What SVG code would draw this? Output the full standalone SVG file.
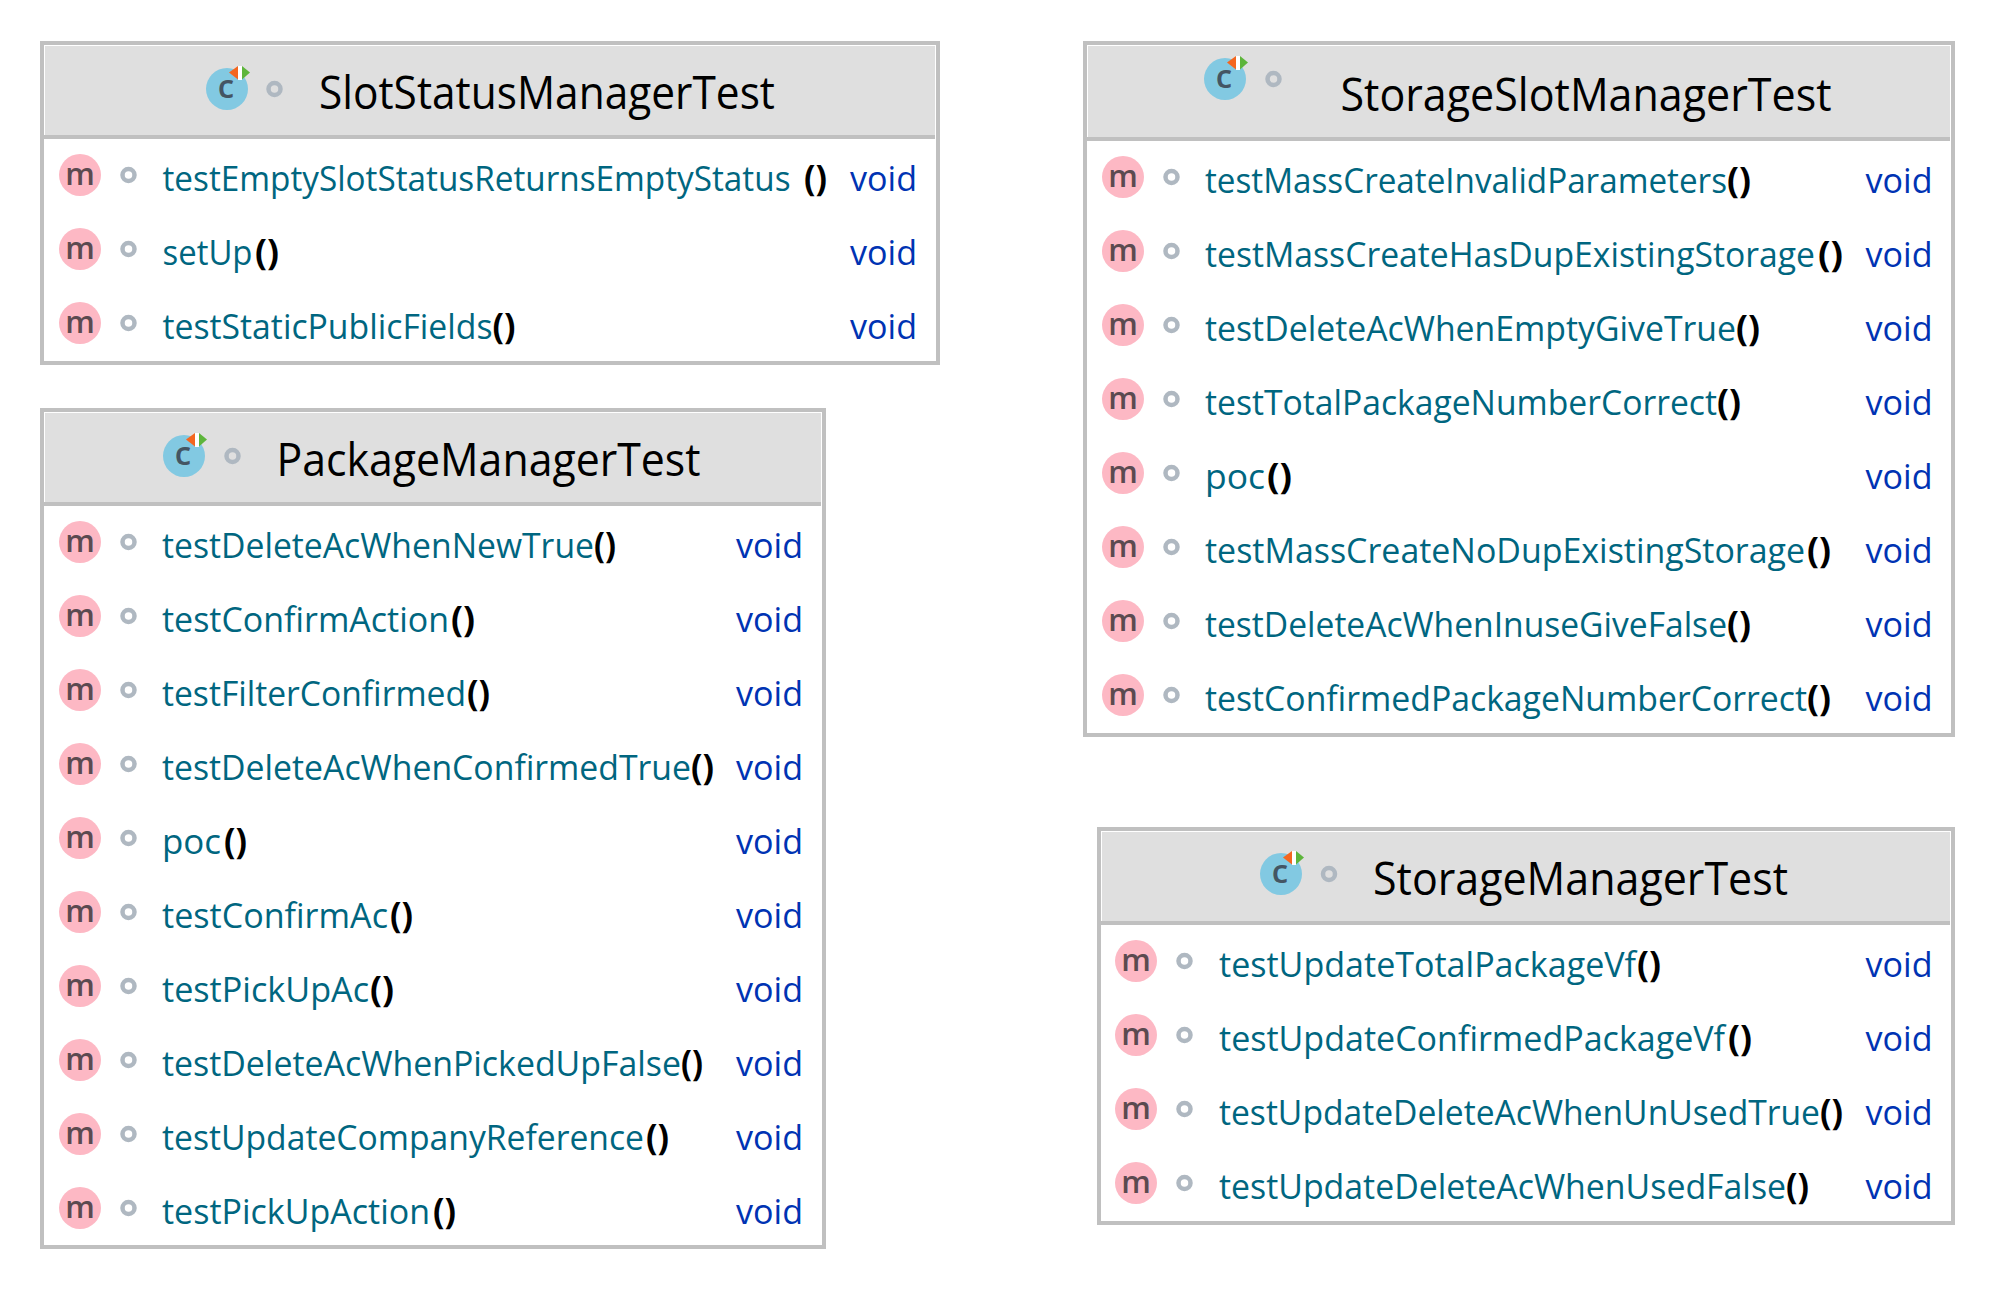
<svg xmlns="http://www.w3.org/2000/svg" xmlns:xlink="http://www.w3.org/1999/xlink" width="1996" height="1290" viewBox="0 0 1996 1290">
<style>
text{font-family:"Open Sans","Noto Sans","Liberation Sans",sans-serif}
.box{fill:#fff;stroke:#c0c0c0;stroke-width:4}
.head{fill:#dfdfdf}
.rule{fill:#c0c0c0}
.title{font-size:45px;fill:#000}
.pin{fill:#fdb8c4}
.ring{fill:none;stroke:#afb8c1;stroke-width:4.500}
.m{font-size:31px;font-weight:600;fill:#5b4a50;text-anchor:middle}
.c{font-size:33px;font-weight:600;fill:#445563;text-anchor:middle}
.t{font-size:35px;fill:#006680}
.p{font-size:36px;font-weight:700;fill:#000}
.v{font-size:35px;fill:#0033b3}
</style>
<defs>
<g id="ci">
<circle r="21" fill="#82c9e2"/>
<rect x="11" y="-23" width="4" height="14" fill="#fff"/>
<path d="M2 -16.500L11 -23V-9.500Z" fill="#f4661f"/>
<path d="M15 -23L23 -16.500L15 -9.500Z" fill="#5db53b"/>
</g>
</defs>
<g id="connectors"></g>

<g id="SlotStatusManagerTest">
<rect class="box" x="42" y="43" width="896" height="320"/>
<rect class="head" x="45" y="46" width="890" height="89"/><rect class="rule" x="44" y="135" width="891" height="4"/>
<use href="#ci" x="227" y="89"/><text class="c" x="226" y="98">c</text><circle class="ring" cx="274.500" cy="89" r="6"/>
<text class="title" x="319" y="109" textLength="456" lengthAdjust="spacingAndGlyphs">SlotStatusManagerTest</text>
<circle class="pin" cx="80" cy="175" r="21"/><text class="m" x="80" y="185">m</text><circle class="ring" cx="128.500" cy="175" r="6"/>
<text class="t" y="191"><tspan x="162.500" textLength="628" lengthAdjust="spacingAndGlyphs">testEmptySlotStatusReturnsEmptyStatus</tspan><tspan class="p" x="804" textLength="23" lengthAdjust="spacingAndGlyphs">()</tspan></text><text class="v" x="850" y="191" textLength="67" lengthAdjust="spacingAndGlyphs">void</text>
<circle class="pin" cx="80" cy="249" r="21"/><text class="m" x="80" y="259">m</text><circle class="ring" cx="128.500" cy="249" r="6"/>
<text class="t" y="265"><tspan x="162.500" textLength="90" lengthAdjust="spacingAndGlyphs">setUp</tspan><tspan class="p" x="255" textLength="24" lengthAdjust="spacingAndGlyphs">()</tspan></text><text class="v" x="850" y="265" textLength="67" lengthAdjust="spacingAndGlyphs">void</text>
<circle class="pin" cx="80" cy="323" r="21"/><text class="m" x="80" y="333">m</text><circle class="ring" cx="128.500" cy="323" r="6"/>
<text class="t" y="339"><tspan x="162.500" textLength="330" lengthAdjust="spacingAndGlyphs">testStaticPublicFields</tspan><tspan class="p" x="492.500" textLength="23" lengthAdjust="spacingAndGlyphs">()</tspan></text><text class="v" x="850" y="339" textLength="67" lengthAdjust="spacingAndGlyphs">void</text>
</g>

<g id="PackageManagerTest">
<rect class="box" x="42" y="410" width="782" height="837"/>
<rect class="head" x="45" y="413" width="776" height="89"/><rect class="rule" x="44" y="502" width="777" height="4"/>
<use href="#ci" x="184" y="456"/><text class="c" x="183" y="465">c</text><circle class="ring" cx="232.500" cy="456" r="6"/>
<text class="title" x="276.500" y="476" textLength="424" lengthAdjust="spacingAndGlyphs">PackageManagerTest</text>
<circle class="pin" cx="80" cy="542" r="21"/><text class="m" x="80" y="552">m</text><circle class="ring" cx="128.500" cy="542" r="6"/>
<text class="t" y="558"><tspan x="162" textLength="432" lengthAdjust="spacingAndGlyphs">testDeleteAcWhenNewTrue</tspan><tspan class="p" x="594" textLength="22" lengthAdjust="spacingAndGlyphs">()</tspan></text><text class="v" x="736" y="558" textLength="67" lengthAdjust="spacingAndGlyphs">void</text>
<circle class="pin" cx="80" cy="616" r="21"/><text class="m" x="80" y="626">m</text><circle class="ring" cx="128.500" cy="616" r="6"/>
<text class="t" y="632"><tspan x="162" textLength="287" lengthAdjust="spacingAndGlyphs">testConfirmAction</tspan><tspan class="p" x="451" textLength="24" lengthAdjust="spacingAndGlyphs">()</tspan></text><text class="v" x="736" y="632" textLength="67" lengthAdjust="spacingAndGlyphs">void</text>
<circle class="pin" cx="80" cy="690" r="21"/><text class="m" x="80" y="700">m</text><circle class="ring" cx="128.500" cy="690" r="6"/>
<text class="t" y="706"><tspan x="162" textLength="304" lengthAdjust="spacingAndGlyphs">testFilterConfirmed</tspan><tspan class="p" x="467" textLength="23" lengthAdjust="spacingAndGlyphs">()</tspan></text><text class="v" x="736" y="706" textLength="67" lengthAdjust="spacingAndGlyphs">void</text>
<circle class="pin" cx="80" cy="764" r="21"/><text class="m" x="80" y="774">m</text><circle class="ring" cx="128.500" cy="764" r="6"/>
<text class="t" y="780"><tspan x="162" textLength="529" lengthAdjust="spacingAndGlyphs">testDeleteAcWhenConfirmedTrue</tspan><tspan class="p" x="691" textLength="23" lengthAdjust="spacingAndGlyphs">()</tspan></text><text class="v" x="736" y="780" textLength="67" lengthAdjust="spacingAndGlyphs">void</text>
<circle class="pin" cx="80" cy="838" r="21"/><text class="m" x="80" y="848">m</text><circle class="ring" cx="128.500" cy="838" r="6"/>
<text class="t" y="854"><tspan x="162" textLength="59" lengthAdjust="spacingAndGlyphs">poc</tspan><tspan class="p" x="224" textLength="23" lengthAdjust="spacingAndGlyphs">()</tspan></text><text class="v" x="736" y="854" textLength="67" lengthAdjust="spacingAndGlyphs">void</text>
<circle class="pin" cx="80" cy="912" r="21"/><text class="m" x="80" y="922">m</text><circle class="ring" cx="128.500" cy="912" r="6"/>
<text class="t" y="928"><tspan x="162" textLength="226" lengthAdjust="spacingAndGlyphs">testConfirmAc</tspan><tspan class="p" x="390" textLength="23" lengthAdjust="spacingAndGlyphs">()</tspan></text><text class="v" x="736" y="928" textLength="67" lengthAdjust="spacingAndGlyphs">void</text>
<circle class="pin" cx="80" cy="986" r="21"/><text class="m" x="80" y="996">m</text><circle class="ring" cx="128.500" cy="986" r="6"/>
<text class="t" y="1002"><tspan x="162" textLength="207" lengthAdjust="spacingAndGlyphs">testPickUpAc</tspan><tspan class="p" x="370" textLength="24" lengthAdjust="spacingAndGlyphs">()</tspan></text><text class="v" x="736" y="1002" textLength="67" lengthAdjust="spacingAndGlyphs">void</text>
<circle class="pin" cx="80" cy="1060" r="21"/><text class="m" x="80" y="1070">m</text><circle class="ring" cx="128.500" cy="1060" r="6"/>
<text class="t" y="1076"><tspan x="162" textLength="519" lengthAdjust="spacingAndGlyphs">testDeleteAcWhenPickedUpFalse</tspan><tspan class="p" x="681" textLength="22" lengthAdjust="spacingAndGlyphs">()</tspan></text><text class="v" x="736" y="1076" textLength="67" lengthAdjust="spacingAndGlyphs">void</text>
<circle class="pin" cx="80" cy="1134" r="21"/><text class="m" x="80" y="1144">m</text><circle class="ring" cx="128.500" cy="1134" r="6"/>
<text class="t" y="1150"><tspan x="162" textLength="482" lengthAdjust="spacingAndGlyphs">testUpdateCompanyReference</tspan><tspan class="p" x="646" textLength="23" lengthAdjust="spacingAndGlyphs">()</tspan></text><text class="v" x="736" y="1150" textLength="67" lengthAdjust="spacingAndGlyphs">void</text>
<circle class="pin" cx="80" cy="1208" r="21"/><text class="m" x="80" y="1218">m</text><circle class="ring" cx="128.500" cy="1208" r="6"/>
<text class="t" y="1224"><tspan x="162" textLength="268" lengthAdjust="spacingAndGlyphs">testPickUpAction</tspan><tspan class="p" x="433" textLength="23" lengthAdjust="spacingAndGlyphs">()</tspan></text><text class="v" x="736" y="1224" textLength="67" lengthAdjust="spacingAndGlyphs">void</text>
</g>

<g id="StorageSlotManagerTest">
<rect class="box" x="1085" y="43" width="868" height="692"/>
<rect class="head" x="1088" y="46" width="862" height="91"/><rect class="rule" x="1087" y="137" width="863" height="4"/>
<use href="#ci" x="1225" y="79"/><text class="c" x="1224" y="88">c</text><circle class="ring" cx="1273.500" cy="79" r="6"/>
<text class="title" x="1340.500" y="111" textLength="491" lengthAdjust="spacingAndGlyphs">StorageSlotManagerTest</text>
<circle class="pin" cx="1123" cy="177" r="21"/><text class="m" x="1123" y="187">m</text><circle class="ring" cx="1171.500" cy="177" r="6"/>
<text class="t" y="193"><tspan x="1205" textLength="522" lengthAdjust="spacingAndGlyphs">testMassCreateInvalidParameters</tspan><tspan class="p" x="1727" textLength="24" lengthAdjust="spacingAndGlyphs">()</tspan></text><text class="v" x="1865.500" y="193" textLength="67" lengthAdjust="spacingAndGlyphs">void</text>
<circle class="pin" cx="1123" cy="251" r="21"/><text class="m" x="1123" y="261">m</text><circle class="ring" cx="1171.500" cy="251" r="6"/>
<text class="t" y="267"><tspan x="1205" textLength="610" lengthAdjust="spacingAndGlyphs">testMassCreateHasDupExistingStorage</tspan><tspan class="p" x="1818" textLength="25" lengthAdjust="spacingAndGlyphs">()</tspan></text><text class="v" x="1865.500" y="267" textLength="67" lengthAdjust="spacingAndGlyphs">void</text>
<circle class="pin" cx="1123" cy="325" r="21"/><text class="m" x="1123" y="335">m</text><circle class="ring" cx="1171.500" cy="325" r="6"/>
<text class="t" y="341"><tspan x="1205" textLength="531" lengthAdjust="spacingAndGlyphs">testDeleteAcWhenEmptyGiveTrue</tspan><tspan class="p" x="1736" textLength="24" lengthAdjust="spacingAndGlyphs">()</tspan></text><text class="v" x="1865.500" y="341" textLength="67" lengthAdjust="spacingAndGlyphs">void</text>
<circle class="pin" cx="1123" cy="399" r="21"/><text class="m" x="1123" y="409">m</text><circle class="ring" cx="1171.500" cy="399" r="6"/>
<text class="t" y="415"><tspan x="1205" textLength="512" lengthAdjust="spacingAndGlyphs">testTotalPackageNumberCorrect</tspan><tspan class="p" x="1717" textLength="24" lengthAdjust="spacingAndGlyphs">()</tspan></text><text class="v" x="1865.500" y="415" textLength="67" lengthAdjust="spacingAndGlyphs">void</text>
<circle class="pin" cx="1123" cy="473" r="21"/><text class="m" x="1123" y="483">m</text><circle class="ring" cx="1171.500" cy="473" r="6"/>
<text class="t" y="489"><tspan x="1205" textLength="60" lengthAdjust="spacingAndGlyphs">poc</tspan><tspan class="p" x="1267" textLength="25" lengthAdjust="spacingAndGlyphs">()</tspan></text><text class="v" x="1865.500" y="489" textLength="67" lengthAdjust="spacingAndGlyphs">void</text>
<circle class="pin" cx="1123" cy="547" r="21"/><text class="m" x="1123" y="557">m</text><circle class="ring" cx="1171.500" cy="547" r="6"/>
<text class="t" y="563"><tspan x="1205" textLength="600" lengthAdjust="spacingAndGlyphs">testMassCreateNoDupExistingStorage</tspan><tspan class="p" x="1807" textLength="24" lengthAdjust="spacingAndGlyphs">()</tspan></text><text class="v" x="1865.500" y="563" textLength="67" lengthAdjust="spacingAndGlyphs">void</text>
<circle class="pin" cx="1123" cy="621" r="21"/><text class="m" x="1123" y="631">m</text><circle class="ring" cx="1171.500" cy="621" r="6"/>
<text class="t" y="637"><tspan x="1205" textLength="522" lengthAdjust="spacingAndGlyphs">testDeleteAcWhenInuseGiveFalse</tspan><tspan class="p" x="1727" textLength="24" lengthAdjust="spacingAndGlyphs">()</tspan></text><text class="v" x="1865.500" y="637" textLength="67" lengthAdjust="spacingAndGlyphs">void</text>
<circle class="pin" cx="1123" cy="695" r="21"/><text class="m" x="1123" y="705">m</text><circle class="ring" cx="1171.500" cy="695" r="6"/>
<text class="t" y="711"><tspan x="1205" textLength="602" lengthAdjust="spacingAndGlyphs">testConfirmedPackageNumberCorrect</tspan><tspan class="p" x="1807" textLength="24" lengthAdjust="spacingAndGlyphs">()</tspan></text><text class="v" x="1865.500" y="711" textLength="67" lengthAdjust="spacingAndGlyphs">void</text>
</g>

<g id="StorageManagerTest">
<rect class="box" x="1099" y="829" width="854" height="394"/>
<rect class="head" x="1102" y="832" width="848" height="89"/><rect class="rule" x="1101" y="921" width="849" height="4"/>
<use href="#ci" x="1281" y="874"/><text class="c" x="1280" y="883">c</text><circle class="ring" cx="1329" cy="874" r="6"/>
<text class="title" x="1373" y="895" textLength="415" lengthAdjust="spacingAndGlyphs">StorageManagerTest</text>
<circle class="pin" cx="1136" cy="961" r="21"/><text class="m" x="1136" y="971">m</text><circle class="ring" cx="1184.500" cy="961" r="6"/>
<text class="t" y="977"><tspan x="1219" textLength="417" lengthAdjust="spacingAndGlyphs">testUpdateTotalPackageVf</tspan><tspan class="p" x="1637" textLength="24" lengthAdjust="spacingAndGlyphs">()</tspan></text><text class="v" x="1865.500" y="977" textLength="67" lengthAdjust="spacingAndGlyphs">void</text>
<circle class="pin" cx="1136" cy="1035" r="21"/><text class="m" x="1136" y="1045">m</text><circle class="ring" cx="1184.500" cy="1035" r="6"/>
<text class="t" y="1051"><tspan x="1219" textLength="506" lengthAdjust="spacingAndGlyphs">testUpdateConfirmedPackageVf</tspan><tspan class="p" x="1728" textLength="24" lengthAdjust="spacingAndGlyphs">()</tspan></text><text class="v" x="1865.500" y="1051" textLength="67" lengthAdjust="spacingAndGlyphs">void</text>
<circle class="pin" cx="1136" cy="1109" r="21"/><text class="m" x="1136" y="1119">m</text><circle class="ring" cx="1184.500" cy="1109" r="6"/>
<text class="t" y="1125"><tspan x="1219" textLength="601" lengthAdjust="spacingAndGlyphs">testUpdateDeleteAcWhenUnUsedTrue</tspan><tspan class="p" x="1820" textLength="23" lengthAdjust="spacingAndGlyphs">()</tspan></text><text class="v" x="1865.500" y="1125" textLength="67" lengthAdjust="spacingAndGlyphs">void</text>
<circle class="pin" cx="1136" cy="1183" r="21"/><text class="m" x="1136" y="1193">m</text><circle class="ring" cx="1184.500" cy="1183" r="6"/>
<text class="t" y="1199"><tspan x="1219" textLength="567" lengthAdjust="spacingAndGlyphs">testUpdateDeleteAcWhenUsedFalse</tspan><tspan class="p" x="1786" textLength="23" lengthAdjust="spacingAndGlyphs">()</tspan></text><text class="v" x="1865.500" y="1199" textLength="67" lengthAdjust="spacingAndGlyphs">void</text>
</g>
</svg>
